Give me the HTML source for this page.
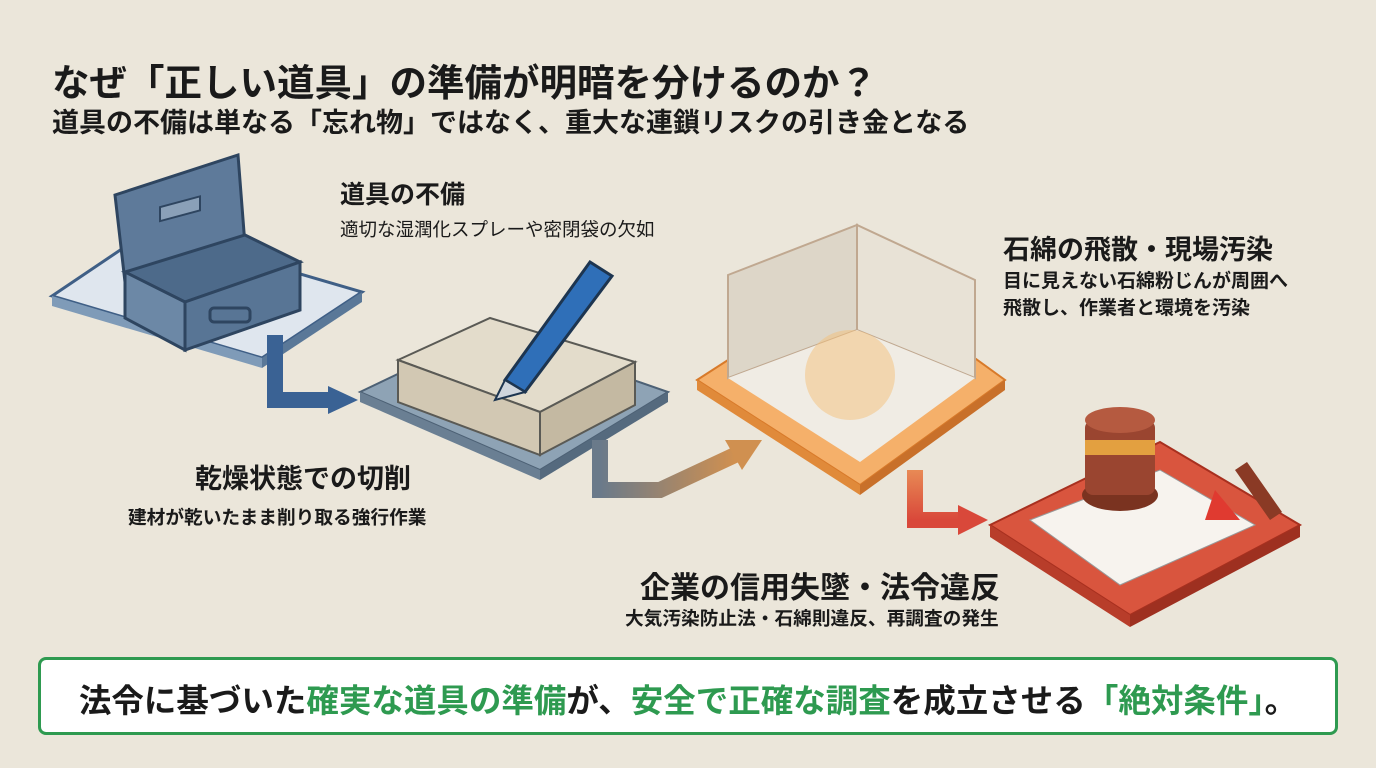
<!DOCTYPE html>
<html><head><meta charset="utf-8"><style>
html,body{margin:0;padding:0;background:#ebe6da;}
body{width:1376px;height:768px;position:relative;overflow:hidden;font-family:"Liberation Sans","Noto Sans CJK JP",sans-serif;color:#1a1a1a;}
.t{position:absolute;white-space:nowrap;font-weight:bold;}
.g{color:#2e9a50;}
</style></head><body>
<svg width="1376" height="768" style="position:absolute;left:0;top:0">
<polygon points="52,296 150,230 362,292 262,358" fill="#dfe6ee" stroke="#3f5f86" stroke-width="3"/>
<polygon points="52,296 262,358 262,368 52,306" fill="#7f9bb8"/>
<polygon points="262,358 362,292 362,302 262,368" fill="#5a7898"/>
<!-- toolbox -->
<polygon points="115,195 238,155 245,245 125,282" fill="#5e7a9a" stroke="#2e4560" stroke-width="3"/>
<rect x="160" y="205" width="40" height="14" fill="#8aa0b8" stroke="#2e4560" stroke-width="2" transform="skewY(-15) translate(0,45)"/>
<polygon points="125,272 245,235 300,262 185,302" fill="#4d6a8a" stroke="#2e4560" stroke-width="3"/>
<polygon points="125,272 185,302 185,350 125,318" fill="#6c88a6" stroke="#2e4560" stroke-width="3"/>
<polygon points="185,302 300,262 300,310 185,350" fill="#587595" stroke="#2e4560" stroke-width="3"/>
<rect x="210" y="308" width="40" height="14" rx="4" fill="none" stroke="#2e4560" stroke-width="3"/>
<path d="M275,335 L275,400 L330,400" fill="none" stroke="#3a6294" stroke-width="16"/>
<polygon points="328,386 358,400 328,414" fill="#3a6294"/>
<polygon points="360,392 490,330 668,392 540,470" fill="#8ea3b5" stroke="#4d6175" stroke-width="2"/>
<polygon points="360,392 540,470 540,480 360,402" fill="#6a7f93"/>
<polygon points="540,470 668,392 668,402 540,480" fill="#556a7e"/>
<polygon points="398,360 490,318 635,362 540,412" fill="#e3dccb" stroke="#5a5a55" stroke-width="2"/>
<polygon points="398,360 540,412 540,455 398,402" fill="#d2c8b3" stroke="#5a5a55" stroke-width="2"/>
<polygon points="540,412 635,362 635,405 540,455" fill="#c4b9a2" stroke="#5a5a55" stroke-width="2"/>
<polygon points="505,380 590,262 612,276 525,392" fill="#2f6fb8" stroke="#1d3550" stroke-width="3"/>
<polygon points="495,400 505,380 525,392" fill="#cfd5dc" stroke="#1d3550" stroke-width="2"/>
<defs><linearGradient id="ga" x1="0" x2="1"><stop offset="0" stop-color="#6a7a8a"/><stop offset="1" stop-color="#d09050"/></linearGradient>
<linearGradient id="gr" x1="0" y1="0" x2="0" y2="1"><stop offset="0" stop-color="#e88a55"/><stop offset="1" stop-color="#d9483a"/></linearGradient></defs>
<path d="M600,440 L600,490 L660,490 L735,455" fill="none" stroke="url(#ga)" stroke-width="16"/>
<polygon points="725,440 762,440 742,470" fill="#d09050"/>
<polygon points="697,380 860,275 1005,380 860,485" fill="#f5b06a" stroke="#d87a2a" stroke-width="2"/>
<polygon points="697,380 860,485 860,495 697,390" fill="#e08a3a"/>
<polygon points="860,485 1005,380 1005,390 860,495" fill="#c8702a"/>
<polygon points="728,378 728,275 857,225 857,330" fill="#ddd6c8" stroke="#c0a890" stroke-width="2"/>
<polygon points="857,330 857,225 975,280 975,378" fill="#e8e2d6" stroke="#c0a890" stroke-width="2"/>
<polygon points="728,378 857,330 975,378 860,462" fill="#f0ece4"/>
<circle cx="850" cy="375" r="45" fill="#f3c07a" opacity="0.5"/>
<path d="M915,470 L915,520 L960,520" fill="none" stroke="url(#gr)" stroke-width="16"/>
<polygon points="958,505 988,520 958,535" fill="#d9483a"/>
<polygon points="990,525 1160,442 1300,525 1130,615" fill="#d9553e" stroke="#a8301f" stroke-width="2"/>
<polygon points="990,525 1130,615 1130,627 990,537" fill="#b83d2a"/>
<polygon points="1130,615 1300,525 1300,537 1130,627" fill="#9e3020"/>
<polygon points="1030,520 1160,470 1255,525 1120,585" fill="#f7f3ee" stroke="#999" stroke-width="1"/>
<polygon points="1235,470 1270,520 1282,512 1247,462" fill="#8a3a25"/>
<ellipse cx="1120" cy="495" rx="38" ry="16" fill="#7a3320"/>
<rect x="1085" y="420" width="70" height="75" rx="8" fill="#9a4530"/>
<rect x="1085" y="440" width="70" height="15" fill="#e3a040"/>
<ellipse cx="1120" cy="420" rx="35" ry="13" fill="#b55a40"/>
<polygon points="1215,490 1240,520 1205,520" fill="#e03a30"/>
</svg>
<div class="t" style="left:52px;top:52px;font-size:37.5px;">なぜ「正しい道具」の準備が明暗を分けるのか？</div>
<div class="t" style="left:52px;top:101px;font-size:27px;">道具の不備は単なる「忘れ物」ではなく、重大な連鎖リスクの引き金となる</div>
<div class="t" style="left:340px;top:175px;font-size:25px;">道具の不備</div>
<div class="t" style="left:340px;top:216px;font-size:18.5px;font-weight:normal;">適切な湿潤化スプレーや密閉袋の欠如</div>
<div class="t" style="left:1003px;top:228px;font-size:27px;">石綿の飛散・現場汚染</div>
<div class="t" style="left:1003px;top:266px;font-size:19px;">目に見えない石綿粉じんが周囲へ</div>
<div class="t" style="left:1003px;top:293px;font-size:19px;">飛散し、作業者と環境を汚染</div>
<div class="t" style="left:195px;top:457px;font-size:27px;">乾燥状態での切削</div>
<div class="t" style="left:128px;top:503px;font-size:18.7px;">建材が乾いたまま削り取る強行作業</div>
<div class="t" style="left:640px;top:563px;font-size:30px;">企業の信用失墜・法令違反</div>
<div class="t" style="left:625px;top:604px;font-size:18.7px;">大気汚染防止法・石綿則違反、再調査の発生</div>
<div style="position:absolute;left:38px;top:657px;width:1294px;height:72px;border:3px solid #2e9a50;border-radius:8px;background:#fff;"></div>
<div class="t" style="left:0;width:1376px;text-align:center;top:675px;font-size:32.5px;">法令に基づいた<span class="g">確実な道具の準備</span>が、<span class="g">安全で正確な調査</span>を成立させる<span class="g">「絶対条件」</span>。</div>
</body></html>
